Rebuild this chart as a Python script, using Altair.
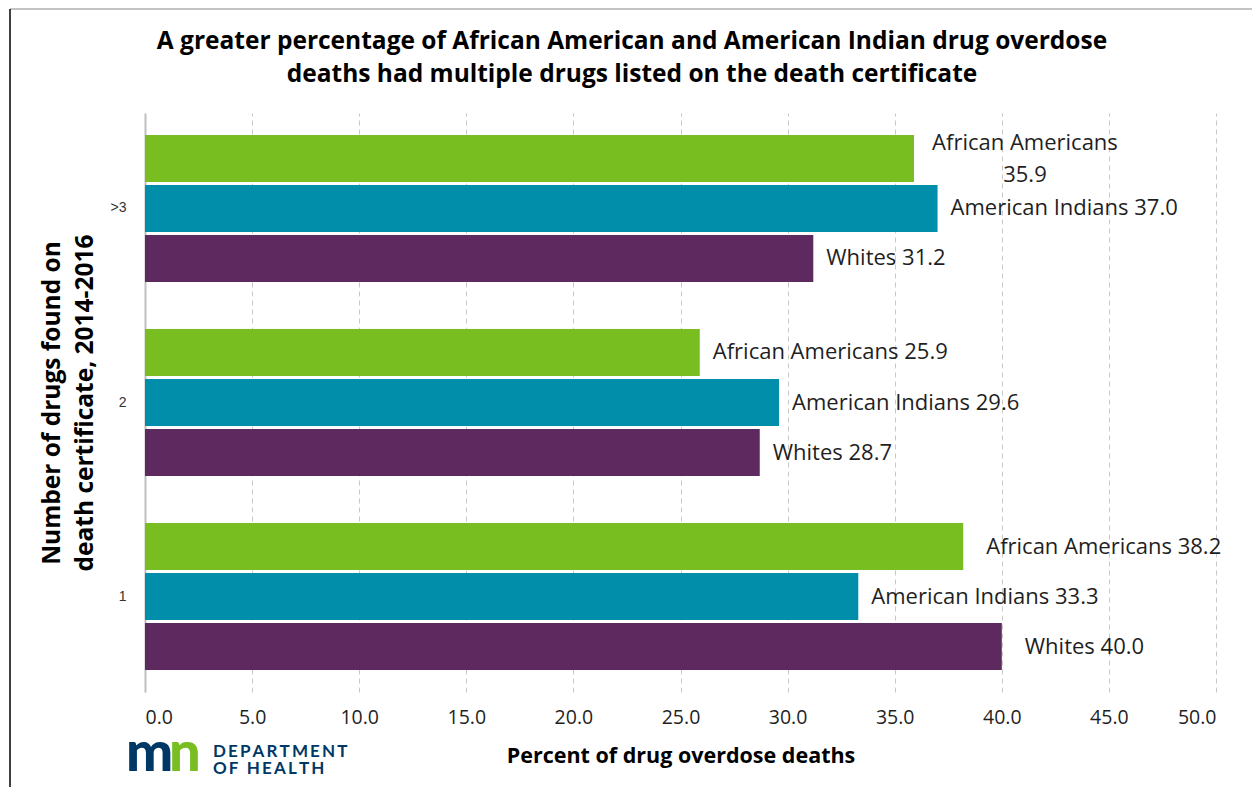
import altair as alt
import pandas as pd

# Number of drugs listed on the death certificate (top to bottom)
drug_counts = [">3", "2", "1"]
groups = ["African Americans", "American Indians", "Whites"]

# Percent of drug overdose deaths, 2014-2016, per group
pct_more_than_3 = [35.9, 37.0, 31.2]
pct_two = [25.9, 29.6, 28.7]
pct_one = [38.2, 33.3, 40.0]

group_colors = ["#78BE21", "#008EAA", "#5D295F"]

title_lines = [
    "A greater percentage of African American and American Indian drug overdose",
    "deaths had multiple drugs listed on the death certificate",
]

rows = []
for count, values in zip(drug_counts, [pct_more_than_3, pct_two, pct_one]):
    for group, value in zip(groups, values):
        rows.append({"drugs": count, "group": group, "pct": value})
df = pd.DataFrame(rows)

FONT = "Open Sans"
TEXT_COLOR = "#1f1f1f"
LABEL_SIZE = 22
W, H = 1071, 579
LEFT, TOP = 145, 113

base = alt.Chart(df).encode(
    y=alt.Y("drugs:N", sort=drug_counts,
            scale=alt.Scale(paddingInner=0.242, paddingOuter=0.113),
            axis=alt.Axis(
                title=["Number of drugs found on", "death certificate, 2014-2016"],
                titleFont=FONT, titleFontSize=24.5, titleFontWeight="bold",
                titleColor="#000000", titleAngle=-90, titleAlign="center",
                titleBaseline="middle", titleX=52 - LEFT, titleY=H / 2,
                titleLineHeight=33,
                labelFont="Liberation Sans", labelFontSize=14, labelColor="#333333",
                labelPadding=19, ticks=False,
                domain=True, domainColor="#c0c0c0", domainWidth=2,
                grid=False)),
    yOffset=alt.YOffset("group:N", sort=groups,
                        scale=alt.Scale(paddingInner=0.06, paddingOuter=0)),
)

x_enc = alt.X("pct:Q",
              scale=alt.Scale(domain=[0, 50], nice=False),
              axis=alt.Axis(
                  values=[0, 5, 10, 15, 20, 25, 30, 35, 40, 45, 50], format=".1f",
                  title="Percent of drug overdose deaths",
                  titleFont=FONT, titleFontSize=21.5, titleFontWeight="bold",
                  titleColor="#000000", titlePadding=19,
                  labelFont=FONT, labelFontSize=19.5, labelColor=TEXT_COLOR,
                  labelPadding=16, ticks=False, domain=False,
                  grid=True, gridColor="#c8c8c8", gridDash=[5, 4], gridWidth=1))

bars = base.mark_bar().encode(
    x=x_enc,
    color=alt.Color("group:N", sort=groups,
                    scale=alt.Scale(domain=groups, range=group_colors),
                    legend=None),
)

label_text = "datum.group + ' ' + format(datum.pct, '.1f')"
wrapped = "datum.drugs == '>3' && datum.group == 'African Americans'"
far = "datum.drugs == '1' && datum.group != 'American Indians'"

labels = base.mark_text(
    align="left", baseline="middle", dx=13, font=FONT, fontSize=LABEL_SIZE,
    color=TEXT_COLOR
).transform_filter(
    f"!({wrapped}) && !({far})"
).transform_calculate(label=label_text).encode(x="pct:Q", text="label:N")

labels_far = base.mark_text(
    align="left", baseline="middle", dx=23, font=FONT, fontSize=LABEL_SIZE,
    color=TEXT_COLOR
).transform_filter(far).transform_calculate(label=label_text).encode(
    x="pct:Q", text="label:N")

label_wrapped = base.mark_text(
    align="center", baseline="middle", dx=111, dy=-15, lineBreak="\n",
    lineHeight=32, font=FONT, fontSize=LABEL_SIZE, color=TEXT_COLOR
).transform_filter(wrapped).transform_calculate(
    label="datum.group + '\\n' + format(datum.pct, '.1f')"
).encode(x="pct:Q", text="label:N")

# Headline, frame lines and the department logo around the plot
one = pd.DataFrame({"k": [0]})
headline = alt.Chart(one).mark_text(
    text="\n".join(title_lines), lineBreak="\n", lineHeight=33,
    font=FONT, fontSize=24.5, fontWeight="bold", color="#000000",
    align="center", baseline="middle").encode(
    x=alt.value(632 - LEFT), y=alt.value(42 - TOP))

frame_top = alt.Chart(one).mark_rule(color="#b0b0b0", strokeWidth=1.5).encode(
    x=alt.value(10 - LEFT), x2=alt.value(1252 - LEFT), y=alt.value(9 - TOP))
frame_left = alt.Chart(one).mark_rule(color="#000000", strokeWidth=1.5).encode(
    x=alt.value(10 - LEFT), y=alt.value(9 - TOP), y2=alt.value(787 - TOP))

LOGO = "Lato"
logo_n = alt.Chart(one).mark_text(
    text="n", font=LOGO, fontSize=56, fontWeight=900, color="#78BE21",
    align="left", baseline="alphabetic").encode(
    x=alt.value(169 - LEFT), y=alt.value(771 - TOP))
logo_m = alt.Chart(one).mark_text(
    text="m", font=LOGO, fontSize=56, fontWeight=900, color="#003865",
    align="left", baseline="alphabetic").encode(
    x=alt.value(126 - LEFT), y=alt.value(771 - TOP))
thin = "\u2009"
logo_dept = alt.Chart(one).mark_text(
    text=thin.join("DEPARTMENT"), font=LOGO, fontSize=17, fontWeight="bold",
    color="#003865", align="left", baseline="alphabetic").encode(
    x=alt.value(213 - LEFT), y=alt.value(757 - TOP))
logo_health = alt.Chart(one).mark_text(
    text=thin.join("OF HEALTH"), font=LOGO, fontSize=17, fontWeight="bold",
    color="#003865", align="left", baseline="alphabetic").encode(
    x=alt.value(213 - LEFT), y=alt.value(774 - TOP))

chart = alt.layer(
    bars, labels, labels_far, label_wrapped,
    headline, frame_top, frame_left, logo_n, logo_m, logo_dept, logo_health,
).properties(
    width=W, height=H,
    autosize=alt.AutoSizeParams(type="none"),
    padding={"left": LEFT, "top": TOP, "right": 1252 - LEFT - W,
             "bottom": 787 - TOP - H},
    background="#ffffff",
).configure_view(stroke=None)

chart.save("out.html", embed_options={"renderer": "svg", "actions": False})
